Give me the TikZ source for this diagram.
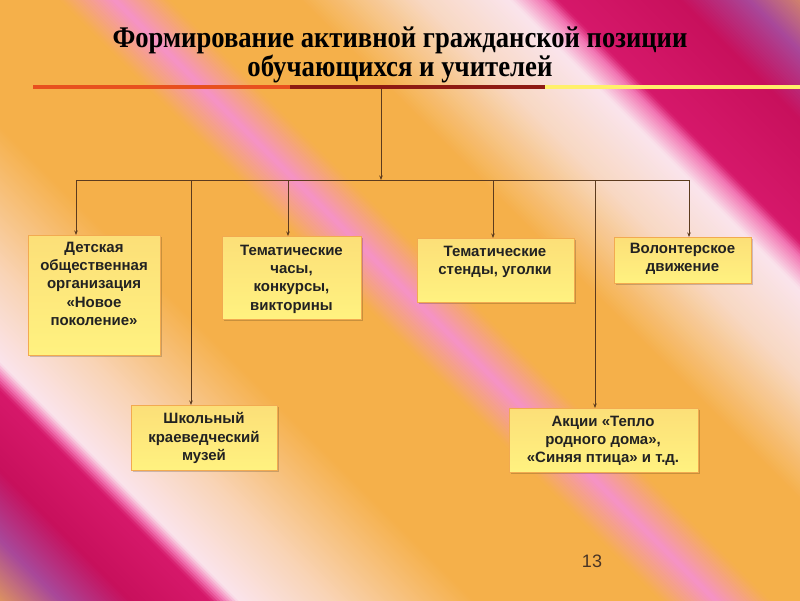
\documentclass[tikz,border=0pt]{standalone}
\usepackage{fontspec}
\usepackage{graphicx}
\usetikzlibrary{arrows.meta,shadows}
\newfontfamily\boxfont{Liberation Sans}
\newfontfamily\titlefont{Liberation Serif}
\definecolor{cOrC}{HTML}{E9A452}
\definecolor{cPur}{HTML}{A8489A}
\definecolor{cCrim}{HTML}{C8105C}
\definecolor{cCrimB}{HTML}{D6186A}
\definecolor{cHot}{HTML}{F274B2}
\definecolor{cPalePink}{HTML}{FAE4EC}
\definecolor{cPeach}{HTML}{F9D4B6}
\definecolor{cOr}{HTML}{F5B04A}
\definecolor{cPink}{HTML}{F592C6}
\definecolor{cPale}{HTML}{F8D8C2}
\definecolor{lnA}{HTML}{E8501E}
\definecolor{lnB}{HTML}{8E1A12}
\definecolor{lnC}{HTML}{FFF06A}
\definecolor{conC}{HTML}{5C3B1E}
\definecolor{boxTop}{HTML}{FCDF78}
\definecolor{boxBot}{HTML}{FFF280}
\definecolor{boxLine}{HTML}{F2AA50}
\definecolor{txtC}{HTML}{222222}
\definecolor{numC}{HTML}{4A3525}
\newcommand\bgseg[4]{%
  \pgfmathtruncatemacro\segn{max(1,round((#2-#1)/3))}%
  \foreach \k in {1,...,\segn}{%
    \pgfmathsetmacro\ua{#1+(#2-#1)*(\k-1)/\segn}%
    \pgfmathsetmacro\ub{#1+(#2-#1)*\k/\segn+1}%
    \pgfmathsetmacro\pp{100*(\k-0.5)/\segn}%
    \fill[#4!\pp!#3] (\ua-5,-5) -- (\ub-5,-5) -- (\ub+605,605) -- (\ua+605,605) -- cycle;
  }%
}
\tikzset{
  box/.style={draw=boxLine, line width=0.9pt, top color=boxTop, bottom color=boxBot,
    rectangle, inner sep=0pt, anchor=north west,
    drop shadow={shadow xshift=2pt, shadow yshift=-2pt, opacity=0.18, fill=black}},
  boxtext/.style={font=\boxfont\bfseries\fontsize{15}{18.4}\selectfont, text=txtC,
    align=center, inner sep=0pt, anchor=north},
  titletext/.style={font=\titlefont\bfseries\fontsize{30}{30}\selectfont, text=black,
    inner sep=0pt, anchor=base},
  conn/.style={draw=conC, line width=0.8pt},
  arr/.style={conn, -{Stealth[length=4.5pt,width=3.5pt]}},
  redline/.style={line width=3.5pt}
}
\begin{document}
\begin{tikzpicture}[x=1pt,y=-1pt]
\useasboundingbox (0,0) rectangle (800,600);
% background
\begin{scope}
\clip (0,0) rectangle (800,600);
\bgseg{-615}{-540}{cOrC}{cPur}
\bgseg{-540}{-470}{cPur}{cCrim}
\bgseg{-470}{-390}{cCrim}{cCrimB}
\bgseg{-390}{-377}{cCrimB}{cHot}
\bgseg{-377}{-362}{cHot}{cPalePink}
\bgseg{-362}{-270}{cPalePink}{cPeach}
\bgseg{-270}{-125}{cPeach}{cOr}
\bgseg{-125}{60}{cOr}{cOr}
\bgseg{60}{115}{cOr}{cPink}
\bgseg{115}{170}{cPink}{cOr}
\bgseg{170}{300}{cOr}{cOr}
\bgseg{300}{420}{cOr}{cPale}
\bgseg{420}{510}{cPale}{cPalePink}
\bgseg{510}{543}{cPalePink}{cHot}
\bgseg{543}{558}{cHot}{cCrimB}
\bgseg{558}{680}{cCrimB}{cCrim}
\bgseg{680}{750}{cCrim}{cPur}
\bgseg{750}{830}{cPur}{cOrC}
\end{scope}
% title
\node[titletext] (title1) at (400,47) {\resizebox{575pt}{\height}{Формирование активной гражданской позиции}};
\node[titletext] (title2) at (400,76) {\resizebox{305pt}{\height}{обучающихся и учителей}};
\draw[redline, lnA] (33,87) -- (290,87);
\draw[redline, lnB] (290,87) -- (545,87);
\draw[redline, lnC] (545,87) -- (800,87);
% boxes
\node[box, minimum width=132pt, minimum height=120pt] (b1) at (28,235) {};
\node[box, minimum width=139pt, minimum height=83pt] (b2) at (222,236) {};
\node[box, minimum width=157pt, minimum height=64pt] (b3) at (417,238) {};
\node[box, minimum width=137pt, minimum height=46pt] (b4) at (614,237) {};
\node[box, minimum width=146pt, minimum height=65pt] (b5) at (131,405) {};
\node[box, minimum width=189pt, minimum height=64pt] (b6) at (509,408) {};
\node[boxtext] (t1) at (94,241.6) {Детская\\общественная\\организация\\«Новое\\поколение»};
\node[boxtext] (t2) at (291.5,244.6) {Тематические\\часы,\\конкурсы,\\викторины};
\node[boxtext] (t3) at (495,246) {Тематические\\стенды, уголки};
\node[boxtext] (t4) at (682.5,243) {Волонтерское\\движение};
\node[boxtext] (t5) at (204,412.6) {Школьный\\краеведческий\\музей};
\node[boxtext] (t6) at (603,415.6) {Акции «Тепло\\родного дома»,\\«Синяя птица» и т.д.};
% connectors
\coordinate (top) at (381,89);
\coordinate (hub) at (381,180);
\coordinate (d1) at (76,180);
\coordinate (d5) at (191,180);
\coordinate (d2) at (288,180);
\coordinate (d3) at (493,180);
\coordinate (d6) at (595,180);
\coordinate (d4) at (689,180);
\draw[arr] (top) -- (hub);
\draw[conn] (d1) -- (d4);
\draw[arr] (d1) -- (d1 |- b1.north);
\draw[arr] (d5) -- (d5 |- b5.north);
\draw[arr] (d2) -- (d2 |- b2.north);
\draw[arr] (d3) -- (d3 |- b3.north);
\draw[arr] (d6) -- (d6 |- b6.north);
\draw[arr] (d4) -- (d4 |- b4.north);
% page number
\node[font=\boxfont\fontsize{18}{18}\selectfont, text=numC, inner sep=0pt] (num) at (592,561) {13};
\end{tikzpicture}
\end{document}
